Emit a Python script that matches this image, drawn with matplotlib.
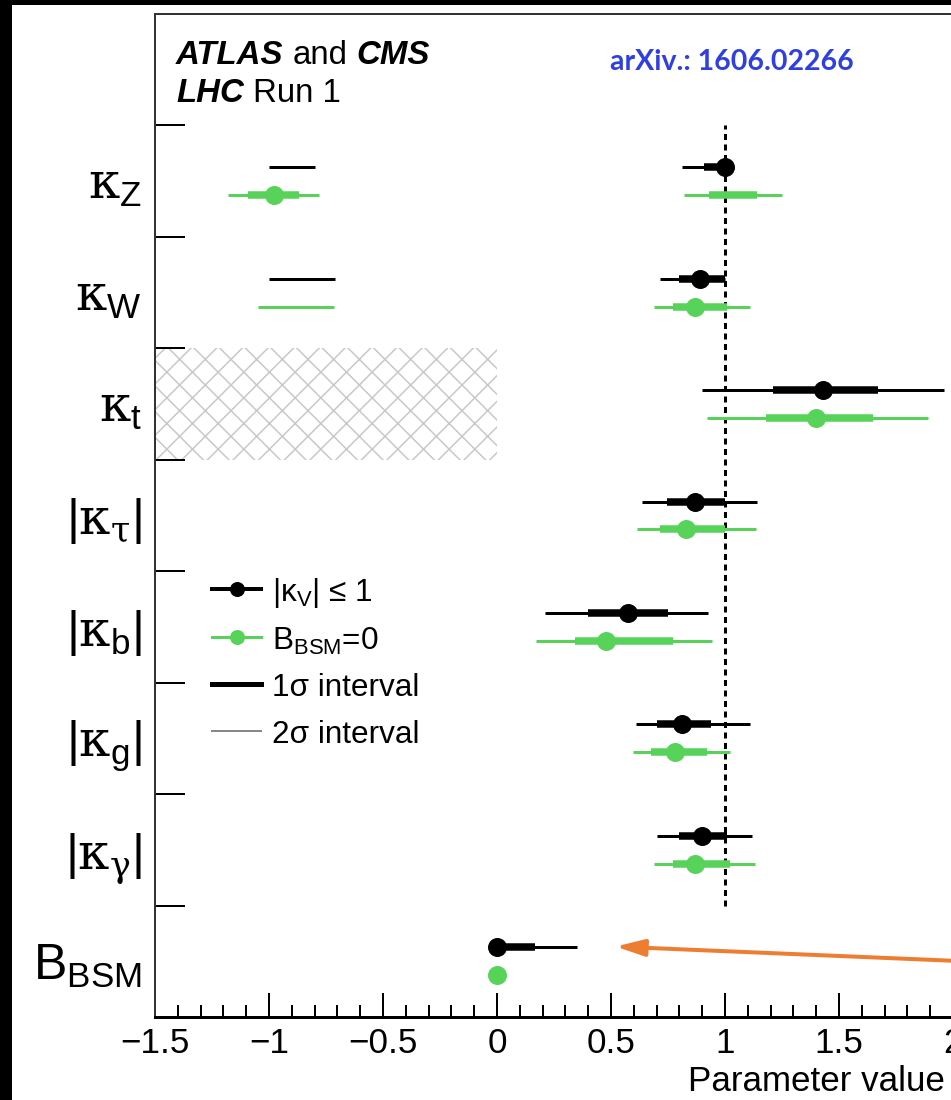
import numpy as np
import matplotlib
matplotlib.use('Agg')
import matplotlib.pyplot as plt
from matplotlib.lines import Line2D
from matplotlib.patches import Rectangle
from matplotlib.ticker import MultipleLocator, FixedLocator, FixedFormatter

DPI = 77
W, H = 951, 1100


def pt(px):
    return px * 72.0 / DPI


plt.rcParams['font.family'] = ['Liberation Sans', 'DejaVu Sans']
plt.rcParams['mathtext.fontset'] = 'custom'
plt.rcParams['mathtext.rm'] = 'Liberation Sans'
plt.rcParams['mathtext.it'] = 'Liberation Sans:italic'
plt.rcParams['mathtext.bf'] = 'Liberation Sans:bold'
plt.rcParams['mathtext.cal'] = 'DejaVu Serif'
plt.rcParams['hatch.linewidth'] = pt(1.5)
plt.rcParams['hatch.color'] = '#c8c8c8'

# ---------------- data ----------------
param_labels = [r'$\mathcal{κ}_\mathrm{Z}$',
                r'$\mathcal{κ}_\mathrm{W}$',
                r'$\mathcal{κ}_\mathrm{t}$',
                r'$\mathrm{|}\mathcal{κ}_{\mathcal{τ}}\mathrm{|}$',
                r'$\mathrm{|}\mathcal{κ}_\mathrm{b}\mathrm{|}$',
                r'$\mathrm{|}\mathcal{κ}_\mathrm{g}\mathrm{|}$',
                r'$\mathrm{|}\mathcal{κ}_{\mathcal{γ}}\mathrm{|}$',
                r'$\mathrm{B}_\mathrm{BSM}$']

nan = np.nan
# |kappa_V| <= 1  (black)
black_best = [1.00, 0.89, 1.43, 0.87, 0.575, 0.81, 0.90, 0.00]
black_1s_lo = [0.91, 0.80, 1.21, 0.745, 0.40, 0.70, 0.80, 0.00]
black_1s_hi = [1.00, 1.00, 1.67, 1.00, 0.75, 0.94, 1.01, 0.165]
black_2s_lo = [0.81, 0.715, 0.90, 0.635, 0.21, 0.61, 0.70, 0.00]
black_2s_hi = [1.00, 1.00, 1.96, 1.14, 0.925, 1.11, 1.12, 0.35]
black_alt_2s_lo = [-1.00, -1.00, nan, nan, nan, nan, nan, nan]
black_alt_2s_hi = [-0.80, -0.71, nan, nan, nan, nan, nan, nan]

# B_BSM = 0  (green)
green_best = [-0.98, 0.87, 1.40, 0.83, 0.48, 0.78, 0.87, 0.00]
green_1s_lo = [-1.09, 0.77, 1.18, 0.715, 0.34, 0.675, 0.77, nan]
green_1s_hi = [-0.87, 1.01, 1.65, 1.00, 0.77, 0.92, 1.02, nan]
green_2s_lo = [-1.18, 0.69, 0.92, 0.615, 0.17, 0.595, 0.69, nan]
green_2s_hi = [-0.78, 1.11, 1.89, 1.135, 0.945, 1.02, 1.13, nan]
green_alt_1s_lo = [0.93, nan, nan, nan, nan, nan, nan, nan]
green_alt_1s_hi = [1.14, nan, nan, nan, nan, nan, nan, nan]
green_alt_2s_lo = [0.82, -1.05, nan, nan, nan, nan, nan, nan]
green_alt_2s_hi = [1.25, -0.715, nan, nan, nan, nan, nan, nan]

kt_excluded = (-1.5, 0.0)   # hatched region for kappa_t
sm_value = 1.0

xtick_values = [-1.5, -1.0, -0.5, 0.0, 0.5, 1.0, 1.5, 2.0]
xtick_labels = ['\u22121.5', '\u22121', '\u22120.5', '0', '0.5', '1', '1.5', '2']

legend_labels = [r'$|\mathrm{κ}_\mathrm{V}|$ ≤ 1', r'$\mathrm{B}_\mathrm{BSM}$=0',
                 '1σ interval', '2σ interval']

GREEN = '#58D35A'
BLACK = 'black'

# ---------------- figure ----------------
fig = plt.figure(figsize=(W / DPI, H / DPI), dpi=DPI)
fig.patch.set_facecolor('black')
fig.add_artist(Rectangle((12 / W, 0), (W - 12) / W, (H - 5) / H,
                         transform=fig.transFigure, facecolor='white',
                         edgecolor='none', zorder=-10))

xmin, xmax = -1.5, 2.6
pxu = 228.0
ax = fig.add_axes([155 / W, (H - 1017) / H, (xmax - xmin) * pxu / W, (1017 - 14) / H])
ax.set_xlim(xmin, xmax)
n = len(param_labels)
ax.set_ylim(0, n + 1)

thin = pt(3)
thick = pt(7.5)
ms = pt(19)
off = 0.125


def seg(lo, hi, y, color, lw):
    if not (np.isnan(lo) or np.isnan(hi)):
        ax.plot([lo, hi], [y, y], color=color, lw=lw, solid_capstyle='butt', zorder=3)


for i in range(n):
    yc = n - 1 - i + 0.5
    for (best, l1, h1, l2, h2, col, yy) in [
        (black_best, black_1s_lo, black_1s_hi, black_2s_lo, black_2s_hi, BLACK, yc + off),
        (green_best, green_1s_lo, green_1s_hi, green_2s_lo, green_2s_hi, GREEN, yc - off)]:
        seg(l2[i], h2[i], yy, col, thin)
        seg(l1[i], h1[i], yy, col, thick)
        ax.plot([best[i]], [yy], 'o', color=col, ms=ms, mec='none', zorder=4)
    seg(black_alt_2s_lo[i], black_alt_2s_hi[i], yc + off, BLACK, thin)
    seg(green_alt_2s_lo[i], green_alt_2s_hi[i], yc - off, GREEN, thin)
    seg(green_alt_1s_lo[i], green_alt_1s_hi[i], yc - off, GREEN, thick)

# SM reference line
ax.plot([sm_value, sm_value], [1, n], color='black', lw=pt(3), dashes=(2, 1.5), zorder=2)

# hatched excluded region for kappa_t
kt_row = n - 1 - 2
ax.fill_between(list(kt_excluded), kt_row, kt_row + 1, facecolor='none',
                edgecolor='#c8c8c8', hatch='x', linewidth=0, zorder=1)

# axes styling
for s in ['top', 'left']:
    ax.spines[s].set_linewidth(pt(2))
    ax.spines[s].set_color('#333333')
ax.spines['bottom'].set_linewidth(pt(3))
ax.spines['right'].set_visible(False)

ax.xaxis.set_major_locator(FixedLocator(xtick_values))
ax.xaxis.set_major_formatter(FixedFormatter(xtick_labels))
ax.xaxis.set_minor_locator(MultipleLocator(0.1))
ax.tick_params(axis='x', which='major', direction='in', length=pt(24), width=pt(2),
               labelsize=pt(35), pad=pt(10), top=False)
ax.tick_params(axis='x', which='minor', direction='in', length=pt(12), width=pt(2), top=False)

ax.set_yticks(np.arange(1, n + 1))
ax.set_yticks(np.arange(n) + 0.5, minor=True)
ax.set_yticklabels(param_labels[::-1], minor=True)
ax.tick_params(axis='y', which='major', direction='in', length=pt(30), width=pt(2),
               labelleft=False, right=False)
ax.tick_params(axis='y', which='minor', length=0, labelsize=pt(50), pad=pt(13), right=False)

# x label (right part of the axis)
fig.text(688 / W, 1 - 1091 / H, 'Parameter value', fontsize=pt(35), va='baseline', ha='left')

# header texts
fs_h = pt(33)
t1 = fig.text(176 / W, 1 - 64 / H, 'ATLAS', fontsize=fs_h, fontweight='bold',
              fontstyle='italic', va='baseline')
t2 = fig.text(0, 0, 'and', fontsize=fs_h, va='baseline')
t3 = fig.text(0, 0, 'CMS', fontsize=fs_h, fontweight='bold', fontstyle='italic', va='baseline')
t4 = fig.text(176 / W, 1 - 102 / H, 'LHC', fontsize=fs_h, fontweight='bold',
              fontstyle='italic', va='baseline')
t5 = fig.text(0, 0, 'Run 1', fontsize=fs_h, va='baseline')

fig.canvas.draw()
r = fig.canvas.get_renderer()
space = 9


def place_after(prev, txt, y_px):
    bb = prev.get_window_extent(r)
    txt.set_position(((bb.x1 + space) / W, 1 - y_px / H))


place_after(t1, t2, 64)
fig.canvas.draw()
place_after(t2, t3, 64)
place_after(t4, t5, 102)

fig.text(610 / W, 1 - 70 / H, 'arXiv.: 1606.02266', fontsize=pt(28.5), color='#3040E0',
         fontweight='bold', family=['Lato', 'DejaVu Sans'], va='baseline')

# legend
handles = [Line2D([], [], color=BLACK, lw=pt(4), marker='o', ms=pt(15), mec='none'),
           Line2D([], [], color=GREEN, lw=pt(3), marker='o', ms=pt(15), mec='none'),
           Line2D([], [], color=BLACK, lw=pt(5)),
           Line2D([], [], color='#888888', lw=pt(2))]
fsl = 31.5
ax.legend(handles, legend_labels, loc='upper left',
          bbox_to_anchor=((212 - 155) / ((xmax - xmin) * pxu), (1017 - 576) / (1017 - 14)),
          frameon=False, fontsize=pt(fsl), handlelength=49 / fsl, handletextpad=11 / fsl,
          labelspacing=0.47, borderpad=0, borderaxespad=0, handleheight=1.0)

# orange arrow pointing at the B_BSM result
ax.annotate('', xy=(0.52, 0.632), xytext=(2.25, 0.483),
            arrowprops=dict(arrowstyle='-|>,head_length=1.2,head_width=0.35',
                            mutation_scale=pt(20), lw=pt(4), color='#ED7D31',
                            shrinkA=0, shrinkB=0),
            annotation_clip=False)

fig.savefig('out.png', dpi=DPI, facecolor='black')
